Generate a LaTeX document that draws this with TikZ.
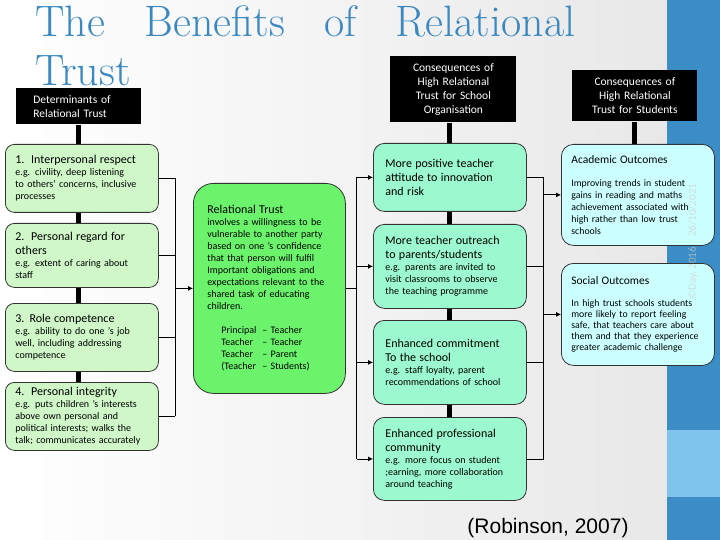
\documentclass[tikz,border=0pt]{standalone}
\usepackage{fontspec}
\setsansfont{Carlito}
\newfontfamily\citefont{Liberation Sans}
\usetikzlibrary{arrows.meta, positioning, calc}
\definecolor{titleblue}{HTML}{3B88C0}
\definecolor{bandblue}{HTML}{3C8DC5}
\definecolor{bandlight}{HTML}{7FC4EA}
\definecolor{detg}{HTML}{CFF7C8}
\definecolor{trustg}{HTML}{6CF36C}
\definecolor{orgc}{HTML}{9CF8CE}
\definecolor{stuc}{HTML}{CCFFFF}
\newcommand{\boxhead}[1]{{\fontsize{12}{14}\selectfont #1\par}}
\newcommand{\boxnote}[1]{{\fontsize{10}{12}\selectfont #1\par}}
\newcommand{\pair}[2]{\makebox[41pt][l]{#1}-- #2}

\begin{document}
\begin{tikzpicture}[x=1pt, y=-1pt, >={Latex[length=5pt,width=5pt]},
    line width=0.8pt, font=\sffamily,
    hdrbox/.style={fill=black, text=white, anchor=north west, inner ysep=0pt,
      font=\sffamily\fontsize{11.5}{14}\selectfont},
    detbox/.style={draw=black!80, fill=detg, rounded corners=9pt, anchor=north west,
      align=left, text width=133pt, inner xsep=10pt, inner ysep=0pt},
    trustbox/.style={draw=black!80, fill=trustg, rounded corners=20pt, anchor=north west,
      align=left, text width=124pt, inner xsep=14pt, inner ysep=0pt},
    orgbox/.style={draw=black!80, fill=orgc, rounded corners=11pt, anchor=north west,
      align=left, text width=129pt, inner xsep=12pt, inner ysep=0pt},
    stubox/.style={draw=black!80, fill=stuc, rounded corners=12pt, anchor=north west,
      align=left, text width=133pt, inner xsep=10pt, inner ysep=0pt},
    bar/.style={line width=5pt}]
  \shade[left color=white, right color=gray!18] (0,0) rectangle (667,540);
  \fill[bandblue] (667,0) rectangle (720,540);
  \fill[bandlight] (667,430) rectangle (720,497);
  \useasboundingbox (0,0) rectangle (720,540);

  \node[titleblue, anchor=base west, inner sep=0pt,
        font=\rmfamily\fontsize{44}{55}\selectfont] (ttl) at (35,37)
        {\makebox[540pt][s]{The Benefits of Relational}};
  \node[titleblue, anchor=base west, inner sep=0pt,
        font=\rmfamily\fontsize{44}{55}\selectfont] (ttl2) at (35,86) {Trust};

  \node[hdrbox, align=left, text width=91pt, inner xsep=17pt, minimum height=36pt]
        (hdet) at (16,88) {Determinants of\\Relational Trust};
  \node[hdrbox, align=center, text width=116pt, inner xsep=5pt, minimum height=66pt]
        (horg) at (390,56) {Consequences of\\High Relational\\Trust for School\\Organisation};
  \node[hdrbox, align=center, text width=115pt, inner xsep=5pt, minimum height=51pt]
        (hstu) at (572,70) {Consequences of\\High Relational\\Trust for Students};

  \node[detbox, minimum height=68pt] (resp) at (5,144)
        {\boxhead{1.\ \ Interpersonal respect}\boxnote{e.g. civility, deep listening\\to others’ concerns, inclusive\\processes}};
  \node[detbox, minimum height=64pt] (regard) at (5,223)
        {\boxhead{2.\ \ Personal regard for\\others}\boxnote{e.g. extent of caring about\\staff}};
  \node[detbox, minimum height=68pt] (compet) at (5,303)
        {\boxhead{3. Role competence}\boxnote{e.g. ability to do one ’s job\\well, including addressing\\competence}};
  \node[detbox, minimum height=68pt] (integ) at (5,382)
        {\boxhead{4.\ \ Personal integrity}\boxnote{e.g. puts children ’s interests\\above own personal and\\political interests; walks the\\talk; communicates accurately}};

  \node[trustbox, minimum height=210pt] (trust) at (193,183)
        {\boxhead{Relational Trust}\boxnote{involves a willingness to be\\vulnerable to another party\\based on one ’s confidence\\that that person will fulfil\\Important obligations and\\expectations relevant to the\\shared task of educating\\children.\\[12pt]
         \hspace*{14pt}\pair{Principal}{Teacher}\\\hspace*{14pt}\pair{Teacher}{Teacher}\\
         \hspace*{14pt}\pair{Teacher}{Parent}\\\hspace*{14pt}\pair{(Teacher}{Students)}}};

  \node[orgbox, minimum height=68pt] (attit) at (373,143)
        {\boxhead{More positive teacher\\attitude to innovation\\and risk}};
  \node[orgbox, minimum height=84pt] (outr) at (373,224)
        {\boxhead{More teacher outreach\\to parents/students}\boxnote{e.g. parents are invited to\\visit classrooms to observe\\the teaching programme}};
  \node[orgbox, minimum height=84pt] (commit) at (373,320)
        {\boxhead{Enhanced commitment\\To the school}\boxnote{e.g. staff loyalty, parent\\recommendations of school}};
  \node[orgbox, minimum height=83pt] (prof) at (373,417)
        {\boxhead{Enhanced professional\\community}\boxnote{e.g. more focus on student\\;earning, more collaboration\\around teaching}};

  \node[stubox, minimum height=101pt] (acad) at (561,144)
        {{\fontsize{11.5}{14}\selectfont Academic Outcomes\par}\vspace{11pt}{\fontsize{9.8}{12}\selectfont Improving trends in student\\gains in reading and maths\\achievement associated with\\high rather than low trust\\schools\par}};
  \node[stubox, minimum height=102pt] (social) at (561,263)
        {{\fontsize{11.5}{14}\selectfont Social Outcomes\par}\vspace{11pt}{\fontsize{9.8}{11}\selectfont In high trust schools students\\more likely to report feeling\\safe, that teachers care about\\them and that they experience\\greater academic challenge\par}};

  \draw[bar] (hdet.south) -- (hdet.south |- resp.north);
  \foreach \a/\b in {resp/regard, regard/compet, compet/integ}
    \draw[bar] (hdet.south |- \a.south) -- (hdet.south |- \b.north);
  \draw[bar] (attit.north |- horg.south) -- (attit.north);
  \foreach \a/\b in {attit/outr, outr/commit, commit/prof}
    \draw[bar] (\a.south) -- (\b.north);
  \draw[bar] (hstu.south) -- (hstu.south |- acad.north);

  \coordinate (lbus) at ($(trust.west)+(-18,0)$);
  \foreach \n in {resp,regard,compet,integ}
    \draw (\n.east) -- (\n.east -| lbus);
  \draw (resp.east -| lbus) -- (integ.east -| lbus);
  \draw[->] (lbus) -- (trust.west);

  \coordinate (mbus) at ($(trust.east)+(11,0)$);
  \draw (trust.east) -- (mbus);
  \draw (mbus |- attit.west) -- (mbus |- prof.west);
  \foreach \n in {attit,outr,commit,prof}
    \draw[->] (mbus |- \n.west) -- (\n.west);

  \coordinate (rbus) at ($(attit.east)+(17,0)$);
  \foreach \n in {attit,outr,commit,prof}
    \draw (\n.east) -- (\n.east -| rbus);
  \draw (rbus |- attit.east) -- (rbus |- prof.east);
  \foreach \n in {acad,social}
    \draw[->] (rbus |- \n.west) -- (\n.west);

  \node[rotate=90, anchor=west, text=black!20, opacity=0.7, inner sep=0pt,
        font=\sffamily\fontsize{11}{12}\selectfont] (stamp) at (693,300)
        {©Day, 2016\hspace{10pt}26/10/2021};
  \node[anchor=base, inner sep=0pt, font=\citefont\fontsize{21}{25}\selectfont]
        (cite) at (548,533) {(Robinson, 2007)};
\end{tikzpicture}
\end{document}
